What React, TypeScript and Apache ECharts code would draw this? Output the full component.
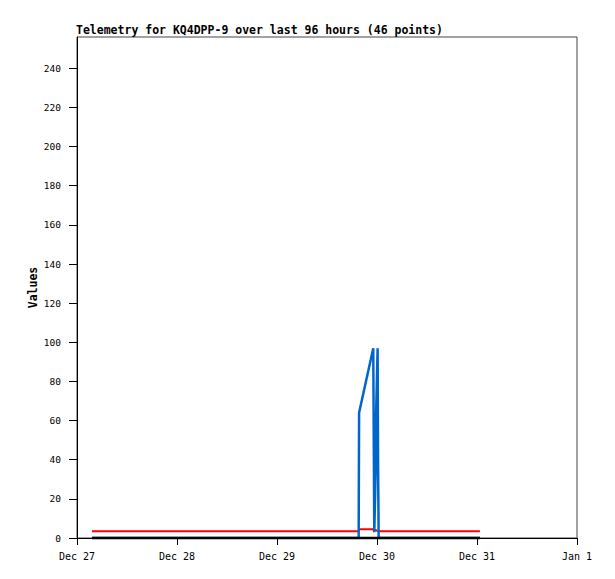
import React, { useEffect, useRef } from "react";
import * as echarts from "echarts";

// x values are hours since Dec 27 00:00
const xTickLabels = ["Dec 27", "Dec 28", "Dec 29", "Dec 30", "Dec 31", "Jan 1"];
const yTicks = [0, 20, 40, 60, 80, 100, 120, 140, 160, 180, 200, 220, 240];

const redTimes = [3.6, 67.6, 67.7, 71.1, 71.3, 71.6, 72.2, 96.7];
const redValues = [3.5, 3.5, 4.5, 4.5, 3.3, 4.2, 3.5, 3.5];

const blueTimes = [3.6, 67.6, 67.7, 71.1, 71.35, 71.7, 71.75, 72.15, 72.25, 72.4, 96.7];
const blueValues = [0, 0, 64, 97, 3, 36, 60, 97, 40, 0, 0];

const blackTimes = [3.6, 96.7];
const blackValues = [0, 0];

const titleText = "Telemetry for KQ4DPP-9 over last 96 hours (46 points)";
const mono = "'DejaVu Sans Mono', 'Liberation Mono', monospace";

const pairs = (xs: number[], ys: number[]) => xs.map((x, i) => [x, ys[i]]);

export default function App() {
  const ref = useRef<HTMLDivElement>(null);
  useEffect(() => {
    if (!ref.current) return;
    const chart = echarts.init(ref.current, null, { renderer: "svg" });
    chart.setOption({
      animation: false,
      backgroundColor: "#ffffff",
      title: {
        text: titleText,
        left: 76,
        top: 24,
        padding: 0,
        textStyle: { fontFamily: mono, fontSize: 11.5, fontWeight: "bold", color: "#000" },
      },
      grid: {
        left: 77,
        top: 37,
        right: 38,
        bottom: 41,
        show: true,
        borderColor: "#444",
        borderWidth: 1,
        backgroundColor: "transparent",
      },
      xAxis: {
        type: "value",
        min: 0,
        max: 120,
        interval: 24,
        axisLine: { show: true, onZero: false, lineStyle: { color: "#000", width: 1 } },
        axisTick: { show: true, length: 7, lineStyle: { color: "#000" } },
        splitLine: { show: false },
        axisLabel: {
          margin: 13,
          fontFamily: mono,
          fontSize: 10,
          color: "#000",
          formatter: (v: number) => xTickLabels[Math.round(v / 24)] ?? "",
        },
      },
      yAxis: {
        type: "value",
        min: 0,
        max: 256,
        interval: 20,
        name: "Values",
        nameLocation: "middle",
        nameRotate: 90,
        nameGap: 38,
        nameMoveOverlap: false,
        nameTextStyle: { fontFamily: mono, fontSize: 11.5, fontWeight: "bold", color: "#000" },
        axisLine: { show: true, lineStyle: { color: "#000", width: 1 } },
        axisTick: { show: true, length: 8, customValues: yTicks, lineStyle: { color: "#000" } },
        splitLine: { show: false },
        axisLabel: {
          margin: 16,
          fontFamily: mono,
          fontSize: 9.5,
          color: "#000",
          customValues: yTicks,
        },
      },
      series: [
        {
          type: "line",
          data: pairs(redTimes, redValues),
          showSymbol: false,
          lineStyle: { color: "#ff0000", width: 2 },
          itemStyle: { color: "#ff0000" },
        },
        {
          type: "line",
          data: pairs(blueTimes, blueValues),
          showSymbol: false,
          lineStyle: { color: "#0066cc", width: 2.5 },
          itemStyle: { color: "#0066cc" },
        },
        {
          type: "line",
          data: pairs(blackTimes, blackValues),
          showSymbol: false,
          clip: false,
          lineStyle: { color: "#000000", width: 2.5 },
          itemStyle: { color: "#000000" },
        },
      ],
    });
    return () => chart.dispose();
  }, []);
  return (
    <div
      ref={ref}
      style={{ position: "fixed", left: 0, top: 0, width: 615, height: 579, background: "#fff" }}
    />
  );
}
